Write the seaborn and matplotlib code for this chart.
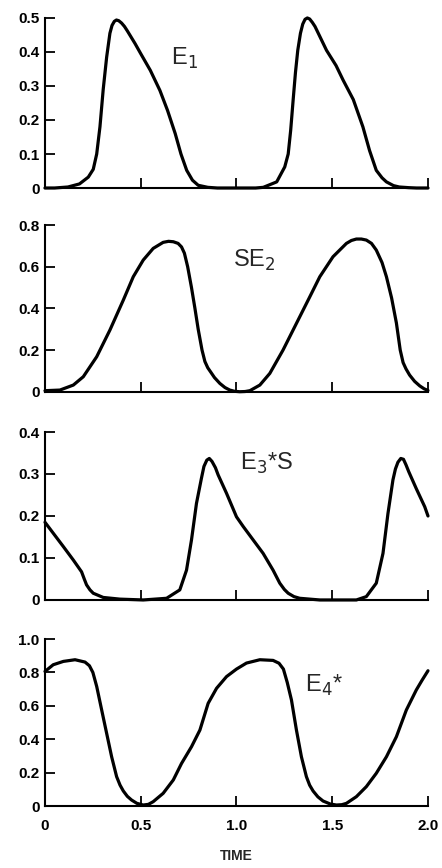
import seaborn as sns
import matplotlib.pyplot as plt

# E1
t_e1 = [0.0, 0.05, 0.12, 0.18, 0.226, 0.252, 0.27, 0.287, 0.304, 0.322, 0.339, 0.35, 0.362, 0.373, 0.385,
        0.4, 0.415, 0.43, 0.47, 0.5, 0.55, 0.6, 0.64, 0.68, 0.71, 0.74, 0.77, 0.8, 0.85, 0.9, 1.0,
        1.1, 1.14, 1.21, 1.252, 1.27, 1.283, 1.296, 1.308, 1.32, 1.334, 1.346, 1.358, 1.37, 1.382,
        1.396, 1.41, 1.47, 1.52, 1.557, 1.61, 1.66, 1.695, 1.73, 1.76, 1.783, 1.82, 1.85, 1.9, 1.94, 2.0]
y_e1 = [0.0, 0.0, 0.003, 0.012, 0.032, 0.055, 0.1, 0.18, 0.29, 0.385, 0.455, 0.478, 0.49, 0.494, 0.492,
        0.485, 0.475, 0.462, 0.425, 0.395, 0.346, 0.287, 0.228, 0.16, 0.1, 0.052, 0.023, 0.008, 0.002, 0.0, 0.0,
        0.0, 0.002, 0.018, 0.062, 0.1, 0.17, 0.26, 0.34, 0.405, 0.455, 0.482, 0.496, 0.5, 0.497,
        0.487, 0.475, 0.405, 0.36, 0.317, 0.26, 0.18, 0.11, 0.052, 0.03, 0.018, 0.007, 0.003, 0.001, 0.0, 0.0]

# SE2
t_se2 = [0.0, 0.078, 0.148, 0.2, 0.27, 0.339, 0.409, 0.461, 0.513, 0.565, 0.617, 0.645, 0.67, 0.695,
         0.713, 0.728, 0.745, 0.765, 0.783, 0.8, 0.82, 0.835, 0.85, 0.865, 0.885, 0.913, 0.94, 0.965, 0.99, 1.017,
         1.045, 1.07, 1.122, 1.174, 1.243, 1.313, 1.383, 1.435, 1.504, 1.574, 1.6, 1.626, 1.652, 1.678, 1.705,
         1.73, 1.76, 1.783, 1.81, 1.835, 1.855, 1.87, 1.885, 1.904, 1.93, 1.957, 1.98, 2.0]
y_se2 = [0.005, 0.008, 0.032, 0.072, 0.168, 0.296, 0.44, 0.552, 0.632, 0.688, 0.717, 0.722, 0.72, 0.712,
         0.695, 0.665, 0.6, 0.5, 0.4, 0.3, 0.2, 0.145, 0.115, 0.095, 0.068, 0.04, 0.02, 0.008, 0.002, 0.0,
         0.001, 0.005, 0.032, 0.088, 0.2, 0.328, 0.456, 0.552, 0.648, 0.712, 0.726, 0.733, 0.733, 0.728, 0.712,
         0.68, 0.62, 0.552, 0.45, 0.33, 0.2, 0.14, 0.11, 0.08, 0.05, 0.028, 0.014, 0.006]

# E3*S
t_e3s = [0.0, 0.043, 0.096, 0.148, 0.191, 0.205, 0.217, 0.235, 0.252, 0.304, 0.391, 0.513, 0.635, 0.704,
         0.739, 0.765, 0.791, 0.817, 0.83, 0.845, 0.858, 0.872, 0.89, 0.904, 0.948, 1.0, 1.035, 1.087, 1.139,
         1.191, 1.226, 1.25, 1.27, 1.3, 1.33, 1.435, 1.626, 1.678, 1.73, 1.765, 1.791, 1.817, 1.83, 1.843,
         1.858, 1.872, 1.885, 1.9, 1.939, 1.983, 2.0]
y_e3s = [0.185, 0.159, 0.127, 0.095, 0.067, 0.05, 0.036, 0.024, 0.016, 0.006, 0.002, 0.0, 0.004, 0.024,
         0.071, 0.143, 0.23, 0.29, 0.318, 0.333, 0.337, 0.33, 0.315, 0.298, 0.254, 0.198, 0.175, 0.143, 0.111,
         0.071, 0.04, 0.025, 0.016, 0.008, 0.004, 0.0, 0.0, 0.008, 0.04, 0.111, 0.206, 0.286, 0.312, 0.328,
         0.337, 0.335, 0.322, 0.305, 0.265, 0.222, 0.2]

# E4*
t_e4 = [0.0, 0.043, 0.096, 0.157, 0.209, 0.232, 0.25, 0.27, 0.296, 0.322, 0.348, 0.374, 0.392, 0.409,
        0.43, 0.452, 0.48, 0.513, 0.54, 0.565, 0.617, 0.67, 0.713, 0.765, 0.809, 0.852, 0.896, 0.948, 1.0,
        1.052, 1.122, 1.191, 1.222, 1.245, 1.265, 1.287, 1.313, 1.339, 1.365, 1.382, 1.4, 1.425, 1.452, 1.49, 1.522,
        1.55, 1.574, 1.626, 1.678, 1.73, 1.783, 1.835, 1.887, 1.939, 1.97, 2.0]
y_e4 = [0.806, 0.846, 0.866, 0.876, 0.862, 0.84, 0.8, 0.716, 0.575, 0.435, 0.295, 0.176, 0.125, 0.09,
        0.058, 0.036, 0.016, 0.006, 0.01, 0.026, 0.076, 0.156, 0.255, 0.355, 0.455, 0.615, 0.705, 0.775, 0.82,
        0.856, 0.876, 0.872, 0.855, 0.82, 0.74, 0.635, 0.455, 0.295, 0.176, 0.125, 0.09, 0.055, 0.03, 0.012, 0.006,
        0.008, 0.016, 0.056, 0.116, 0.196, 0.295, 0.415, 0.575, 0.695, 0.755, 0.81]

series = [(t_e1, y_e1), (t_se2, y_se2), (t_e3s, y_e3s), (t_e4, y_e4)]
yticks = [[0, 0.1, 0.2, 0.3, 0.4, 0.5], [0, 0.2, 0.4, 0.6, 0.8],
          [0, 0.1, 0.2, 0.3, 0.4], [0, 0.2, 0.4, 0.6, 0.8, 1.0]]
ylabels = [["0", "0.1", "0.2", "0.3", "0.4", "0.5"], ["0", "0.2", "0.4", "0.6", "0.8"],
           ["0", "0.1", "0.2", "0.3", "0.4"], ["0", "0.2", "0.4", "0.6", "0.8", "1.0"]]
xticks = [0, 0.5, 1.0, 1.5, 2.0]
xlabels = ["0", "0.5", "1.0", "1.5", "2.0"]
names = ["E$_1$", "SE$_2$", "E$_3$*S", "E$_4$*"]
name_pos = [(0.66, 0.38), (0.98, 0.632), (1.02, 0.326), (1.36, 0.725)]

sns.set_style("ticks")
plt.rcParams['font.family'] = ['Liberation Sans', 'DejaVu Sans']

fig = plt.figure(figsize=(4.42, 8.68), dpi=100)
boxes = [(0.1018, 0.7834, 0.8665, 0.1959), (0.1018, 0.5487, 0.8665, 0.192),
         (0.1018, 0.3088, 0.8665, 0.1935), (0.1018, 0.0714, 0.8665, 0.1924)]

for i, (t, y) in enumerate(series):
    ax = fig.add_axes(boxes[i])
    sns.lineplot(x=t, y=y, ax=ax, color="black", linewidth=2.3)
    for l in ax.lines:
        l.set_clip_on(False)
        l.set_solid_joinstyle("round")
        l.set_solid_capstyle("round")
    ax.set_xlim(0, 2.0)
    ax.set_ylim(0, yticks[i][-1])
    ax.set_yticks(yticks[i])
    ax.set_yticklabels(ylabels[i], fontweight="bold", fontsize=11)
    ax.set_xticks(xticks)
    if i == 3:
        ax.set_xticklabels(xlabels, fontweight="bold", fontsize=11)
        ax.set_xlabel("TIME", fontweight="bold", fontsize=10, labelpad=12)
    else:
        ax.set_xticklabels([])
    ax.tick_params(direction="in", length=7, width=1.3, pad=4, colors="black")
    ax.tick_params(axis="x", pad=9)
    for s in ["top", "right"]:
        ax.spines[s].set_visible(False)
    for s in ["left", "bottom"]:
        ax.spines[s].set_linewidth(1.5)
        ax.spines[s].set_color("black")
    ax.text(name_pos[i][0], name_pos[i][1], names[i], fontsize=17, va="center", ha="left")

fig.savefig("out.png", dpi=100)
